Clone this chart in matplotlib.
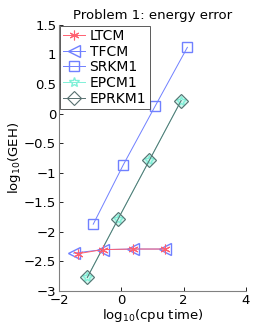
import matplotlib.pyplot as plt

# dados (log10)
x_ltcm = [-1.4, -0.6, 0.38, 1.4]
y_ltcm = [-2.37, -2.30, -2.29, -2.29]
x_tfcm = [-1.53, -0.6, 0.38, 1.4]
y_tfcm = [-2.36, -2.30, -2.29, -2.29]
x_srkm = [-0.9, 0.06, 1.09, 2.12]
y_srkm = [-1.87, -0.87, 0.13, 1.12]
x_epcm = [-1.09, -0.1, 0.9, 1.92]
y_epcm = [-2.77, -1.78, -0.79, 0.22]
x_eprkm = [-1.09, -0.1, 0.9, 1.92]
y_eprkm = [-2.77, -1.78, -0.79, 0.22]

plt.rcParams['font.family'] = 'DejaVu Sans'

fig = plt.figure(figsize=(2.73, 3.27), dpi=100)
ax = fig.add_axes([0.216, 0.110, 0.685, 0.814])

ax.plot(x_ltcm, y_ltcm, '-', color='#ff6070', marker=(6, 2, 0), markersize=7,
        markeredgewidth=0.8, linewidth=0.7, label='LTCM', zorder=5)
ax.plot(x_tfcm, y_tfcm, '-', color='#7080ff', marker='<', markersize=8, linewidth=0.7,
        markerfacecolor='none', label='TFCM', zorder=4)
ax.plot(x_srkm, y_srkm, '-', color='#7080ff', marker='s', markersize=7, linewidth=0.7,
        markerfacecolor='none', label='SRKM1')
# preenchimento das estrelas EPCM1 que ficam por baixo dos losangos
ax.plot(x_epcm, y_epcm, 'D', color='#d0f8ee', markersize=7, zorder=2)
ax.plot(x_epcm, y_epcm, '-', color='#80f0d8', marker='*', markersize=7, linewidth=0.7,
        markerfacecolor='none', label='EPCM1', zorder=2)
ax.plot(x_eprkm, y_eprkm, '-', color='#587070', marker='D', markersize=7, linewidth=0.7,
        markerfacecolor='none', markeredgewidth=0.8, label='EPRKM1', zorder=3)

ax.set_title('Problem 1: energy error', fontsize=9.5, pad=4)
ax.set_xlabel('log$_{10}$(cpu time)', fontsize=9.5, labelpad=0)
ax.set_ylabel('log$_{10}$(GEH)', fontsize=9.5, labelpad=1)

ax.axis([-2, 4, -3, 1.5])
ax.set_xticks([-2, 0, 2, 4])
ax.set_xticklabels(['\u22122', '0', '2', '4'])
ax.set_yticks([-3, -2.5, -2, -1.5, -1, -0.5, 0, 0.5, 1, 1.5])
ax.set_yticklabels(['\u22123', '\u22122.5', '\u22122', '\u22121.5', '\u22121', '\u22120.5',
                    '0', '0.5', '1', '1.5'])
ax.tick_params(axis='both', direction='in', labelsize=9.5, length=3, width=0.6, pad=2)

ax.spines['top'].set_visible(False)
ax.spines['right'].set_visible(False)
ax.spines['left'].set_color('#808080')
ax.spines['bottom'].set_color('#808080')

leg = ax.legend(loc='upper left', fontsize=10, fancybox=False, framealpha=1,
                edgecolor='#404040', borderaxespad=0.05, handlelength=1.6,
                handletextpad=0.3, labelspacing=0.12, borderpad=0.25)
leg.get_frame().set_linewidth(0.6)

fig.savefig('out.png', dpi=100)
